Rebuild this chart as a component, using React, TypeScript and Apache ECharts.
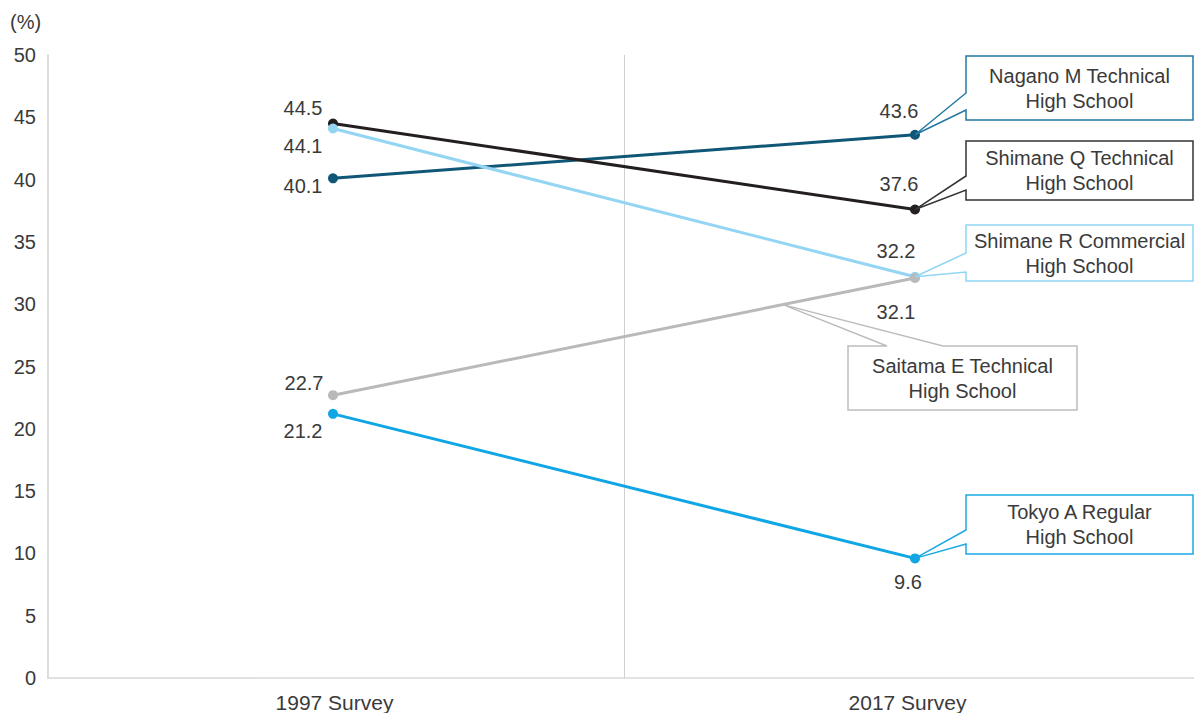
import React, { useEffect, useRef } from "react";
import * as echarts from "echarts";

// ---- data ----
const surveys = ["1997 Survey", "2017 Survey"];
const seriesNames = [
  "Nagano M Technical High School",
  "Shimane Q Technical High School",
  "Shimane R Commercial High School",
  "Saitama E Technical High School",
  "Tokyo A Regular High School",
];
const naganoM = [40.1, 43.6];
const shimaneQ = [44.5, 37.6];
const shimaneR = [44.1, 32.2];
const saitamaE = [22.7, 32.1];
const tokyoA = [21.2, 9.6];
const yMin = 0;
const yMax = 50;
const yInterval = 5;

const FONT = '"Liberation Sans", Arial, Helvetica, sans-serif';
const TEXT = "#3a3a3a";

// ---- styling / layout (not data) ----
const seriesStyles = [
  { values: naganoM, color: "#0f5677", offsets: [[-30, 8], [-16, -24]] },
  { values: shimaneQ, color: "#231f20", offsets: [[-30, -16], [-16, -26]] },
  { values: shimaneR, color: "#93d5f2", offsets: [[-30, 17], [-19, -26]] },
  { values: saitamaE, color: "#b9b9b9", offsets: [[-29, -12], [-19, 34]] },
  { values: tokyoA, color: "#10a6e4", offsets: [[-30, 17], [-7, 24]] },
];

const callouts = [
  { idx: 0, color: "#2479a2", box: [966, 56, 227, 64], side: "left", gap: [93, 110], t: 1 },
  { idx: 1, color: "#333333", box: [966, 141, 227, 59], side: "left", gap: [176, 190], t: 1 },
  { idx: 2, color: "#8fd6f4", box: [966, 225, 227, 56], side: "left", gap: [253, 272], t: 1 },
  { idx: 3, color: "#bdbdbd", box: [848, 346, 229, 64], side: "top", gap: [887, 943], t: 0.773 },
  { idx: 4, color: "#1aa9e3", box: [966, 495, 227, 59], side: "left", gap: [530, 544], t: 1 },
];

const calloutText = (name: string) => {
  const i = name.indexOf(" High School");
  return name.slice(0, i) + "\nHigh School";
};

export default function App() {
  const ref = useRef<HTMLDivElement>(null);

  useEffect(() => {
    if (!ref.current) return;
    const chart = echarts.init(ref.current, undefined, { renderer: "svg" });

    const series: any[] = seriesStyles.map((s, si) => ({
      type: "line",
      name: seriesNames[si],
      xAxisIndex: 1,
      yAxisIndex: 0,
      symbol: "circle",
      symbolSize: 10,
      lineStyle: { color: s.color, width: 3 },
      itemStyle: { color: s.color },
      emphasis: { disabled: true },
      label: {
        show: true,
        position: "inside",
        color: TEXT,
        fontSize: 20,
        fontFamily: FONT,
        textBorderWidth: 0,
        formatter: (p: any) => Number(p.value[1]).toFixed(1),
      },
      data: s.values.map((v, i) => ({
        value: [i, v],
        label: { offset: s.offsets[i] },
      })),
      z: 2 + si,
    }));

    series[0].markLine = {
      silent: true,
      symbol: ["none", "none"],
      label: { show: false },
      lineStyle: { color: "#cfcfcf", width: 1, type: "solid" },
      data: [{ xAxis: 0.5 }],
      z: 1,
    };

    chart.setOption({
      animation: false,
      grid: { left: 48, right: 0, top: 55, bottom: 35, containLabel: false },
      xAxis: [
        {
          type: "category",
          data: surveys,
          boundaryGap: true,
          axisLine: { show: true, onZero: false, lineStyle: { color: "#d8d8d8", width: 1.5 } },
          axisTick: { show: false },
          splitLine: { show: false },
          axisLabel: { color: TEXT, fontSize: 21, fontFamily: FONT, margin: 14 },
        },
        {
          type: "value",
          show: false,
          min: -0.4897,
          max: 1.4794,
          splitLine: { show: false },
        },
      ],
      yAxis: {
        type: "value",
        min: yMin,
        max: yMax,
        interval: yInterval,
        axisLine: { show: true, onZero: false, lineStyle: { color: "#d0d0d0", width: 1.5 } },
        axisTick: { show: false },
        splitLine: { show: false },
        axisLabel: { color: TEXT, fontSize: 20, fontFamily: FONT, margin: 12 },
      },
      series,
    });

    const graphics: any[] = [
      {
        type: "text",
        x: 10,
        y: 22,
        style: {
          text: "(%)",
          fill: TEXT,
          fontSize: 20,
          fontFamily: FONT,
          align: "left",
          verticalAlign: "middle",
        },
      },
    ];

    callouts.forEach((c) => {
      const vals = seriesStyles[c.idx].values;
      const v = vals[0] + (vals[1] - vals[0]) * c.t;
      const tip = chart.convertToPixel({ seriesIndex: c.idx }, [c.t, v]) as number[];
      const [x, y, w, h] = c.box;
      let pts: number[][];
      if (c.side === "left") {
        pts = [[x, y], [x + w, y], [x + w, y + h], [x, y + h], [x, c.gap[1]], tip, [x, c.gap[0]]];
      } else {
        pts = [[x, y], [c.gap[0], y], tip, [c.gap[1], y], [x + w, y], [x + w, y + h], [x, y + h]];
      }
      graphics.push({
        type: "polygon",
        shape: { points: pts },
        style: { fill: "none", stroke: c.color, lineWidth: 1.5 },
        z: 10,
      });
      graphics.push({
        type: "text",
        x: x + w / 2,
        y: y + h / 2,
        style: {
          text: calloutText(seriesNames[c.idx]),
          fill: TEXT,
          fontSize: 20,
          fontFamily: FONT,
          lineHeight: 25,
          align: "center",
          verticalAlign: "middle",
        },
        z: 11,
      });
    });

    chart.setOption({ graphic: graphics });

    return () => chart.dispose();
  }, []);

  return (
    <div
      ref={ref}
      style={{ position: "absolute", left: 0, top: 0, width: 1194, height: 713 }}
    />
  );
}
